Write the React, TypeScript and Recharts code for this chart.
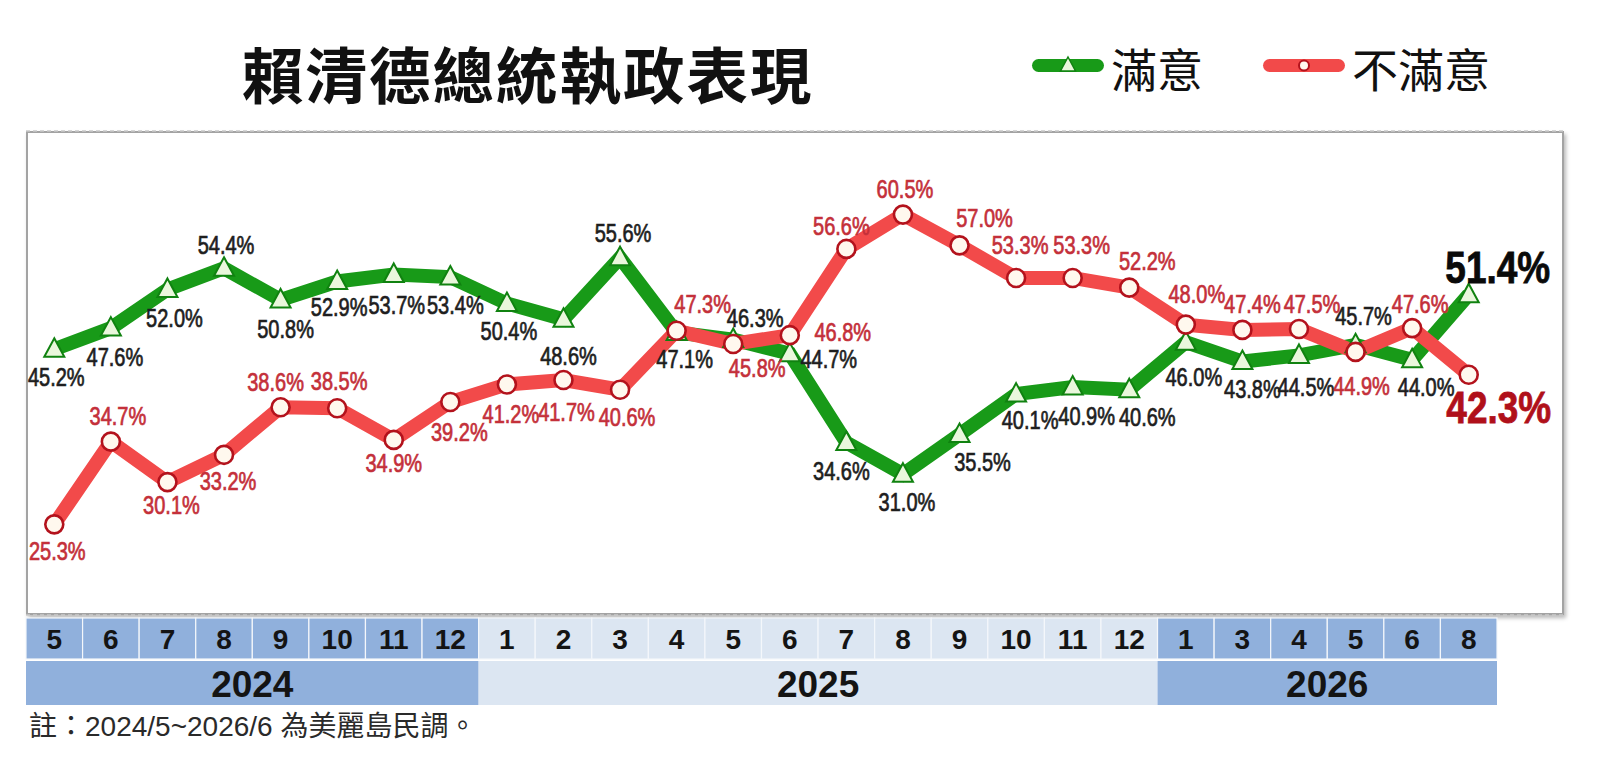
import React from 'react';
import {
  ComposedChart,
  Line,
  XAxis,
  YAxis,
  CartesianGrid,
  LabelList,
  Legend,
} from 'recharts';

// ---------- data ----------
const yearLabels = ['2024', '2025', '2026'];
const monthsByYear = [
  [5, 6, 7, 8, 9, 10, 11, 12],
  [1, 2, 3, 4, 5, 6, 7, 8, 9, 10, 11, 12],
  [1, 3, 4, 5, 6, 8],
];
const satisfied = [
  45.2, 47.6, 52.0, 54.4, 50.8, 52.9, 53.7, 53.4, 50.4, 48.6, 55.6, 47.1, 46.3,
  44.7, 34.6, 31.0, 35.5, 40.1, 40.9, 40.6, 46.0, 43.8, 44.5, 45.7, 44.0, 51.4,
];
const dissatisfied = [
  25.3, 34.7, 30.1, 33.2, 38.6, 38.5, 34.9, 39.2, 41.2, 41.7, 40.6, 47.3, 45.8,
  46.8, 56.6, 60.5, 57.0, 53.3, 53.3, 52.2, 48.0, 47.4, 47.5, 44.9, 47.6, 42.3,
];
const yTicks = [25, 35, 45, 55, 65];
const title = '賴清德總統執政表現';
const seriesNames = ['滿意', '不滿意'];
const footnote = '註：2024/5~2026/6 為美麗島民調。';

// label placement (style config: offset of each label from its point)
const satLabelOffset: [number, number][] = [
  [2, 28], [4, 30], [7, 29], [2, -23], [5, 30], [2, 26], [3, 31], [5, 29],
  [2, 28], [5, 37], [3, -24], [8, 27], [22, -21], [39, 6], [-5, 29], [4, 29],
  [23, 28], [14, 27], [14, 30], [18, 28], [8, 36], [10, 28], [7, 32],
  [8, -28], [14, 28], [29, -27],
];
const disLabelOffset: [number, number][] = [
  [3, 27], [7, -25], [4, 24], [4, 27], [-5, -25], [2, -26], [0, 24], [9, 31],
  [4, 30], [3, 33], [7, 28], [26, -26], [24, 25], [53, -2], [-5, -22],
  [2, -25], [25, -27], [4, -32], [9, -32], [18, -26], [11, -30], [10, -25],
  [13, -24], [6, 35], [8, -23], [30, 33],
];

// ---------- table built from the arrays ----------
const years: string[] = [];
const months: string[] = [];
monthsByYear.forEach((ms, yi) =>
  ms.forEach((m) => {
    years.push(yearLabels[yi]);
    months.push(String(m));
  })
);
const keys = months.map((m, i) => `${years[i]}-${m}`);
const data = keys.map((k, i) => ({
  key: k,
  sat: satisfied[i],
  dis: dissatisfied[i],
}));

// ---------- layout / style ----------
const W = 1600;
const H = 770;
const PLOT_LEFT = 26;
const PLOT_TOP = 131;
const PLOT_RIGHT = 1564;
const PLOT_BOTTOM = 615;
const PAD_RIGHT = 67;
const XAXIS_H = 92;
const N = keys.length;
const BW = (PLOT_RIGHT - PAD_RIGHT - PLOT_LEFT) / N;
const MONTH_TOP = 618;
const MONTH_H = 41;
const YEAR_TOP = 661;
const YEAR_H = 44;

const GREEN = '#189a18';
const GREEN_DARK = '#108210';
const RED = '#f24a4a';
const RED_DARK = '#b3121c';
const DARK_CELL = '#90b0dc';
const LIGHT_CELL = '#dce6f2';
const LABEL_FONT = "'Liberation Sans', Arial, sans-serif";
const CJK_FONT = "'Noto Sans CJK TC', 'Noto Sans CJK SC', sans-serif";

const MonthTick = (props: any) => {
  const { x, payload } = props;
  const i = keys.indexOf(payload.value);
  if (i < 0) return null;
  const yr = years[i];
  const dark = yr !== '2025';
  const left = x - BW / 2;
  const first = i === 0 || years[i - 1] !== yr;
  const count = years.filter((v) => v === yr).length;
  return (
    <g>
      <rect
        x={left}
        y={MONTH_TOP}
        width={BW}
        height={MONTH_H}
        fill={dark ? DARK_CELL : LIGHT_CELL}
        stroke="#f4f7fb"
        strokeWidth={1.2}
      />
      <text
        x={x}
        y={MONTH_TOP + MONTH_H / 2 + 1}
        textAnchor="middle"
        dominantBaseline="central"
        fontFamily="'Liberation Sans', Arial, sans-serif"
        fontWeight="bold"
        fontSize={28}
        fill="#141414"
      >
        {months[i]}
      </text>
      {first && (
        <g>
          <rect
            x={left}
            y={YEAR_TOP}
            width={count * BW}
            height={YEAR_H}
            fill={dark ? DARK_CELL : LIGHT_CELL}
          />
          <text
            x={left + (count * BW) / 2}
            y={YEAR_TOP + YEAR_H / 2 + 1}
            textAnchor="middle"
            dominantBaseline="central"
            fontFamily="'Liberation Sans', Arial, sans-serif"
            fontWeight="bold"
            fontSize={37}
            fill="#141414"
          >
            {yr}
          </text>
        </g>
      )}
    </g>
  );
};

const TriangleDot = (props: any) => {
  const { cx, cy } = props;
  if (cx == null || cy == null) return <g />;
  const d = `M${cx},${cy - 11} L${cx + 10},${cy + 7.5} L${cx - 10},${cy + 7.5} Z`;
  return <path d={d} fill="#eaf7dc" stroke={GREEN_DARK} strokeWidth={2} />;
};

const CircleDot = (props: any) => {
  const { cx, cy } = props;
  if (cx == null || cy == null) return <g />;
  return <circle cx={cx} cy={cy} r={9} fill="#fff8ee" stroke={RED_DARK} strokeWidth={2.6} />;
};

const makeLabel =
  (offsets: [number, number][], color: string, bigColor: string) => (props: any) => {
    const { x, y, value, index } = props;
    if (x == null || y == null) return null;
    const [dx, dy] = offsets[index] || [0, -20];
    const last = index === N - 1;
    return (
      <text
        transform={`translate(${x + dx},${y + dy}) scale(${last ? 0.84 : 0.8},1)`}
        x={0}
        y={0}
        textAnchor="middle"
        dominantBaseline="central"
        fontFamily={LABEL_FONT}
        fontWeight={last ? 'bold' : 'normal'}
        fontSize={last ? 44 : 25}
        fill={last ? bigColor : color}
        stroke={last ? bigColor : color}
        strokeWidth={last ? 0.8 : 0.7}
      >
        {`${Number(value).toFixed(1)}%`}
      </text>
    );
  };

const renderLegend = () => (
  <svg width={500} height={72} style={{ display: 'block' }}>
    <rect x={32} y={29} width={72} height={13} rx={6.5} fill={GREEN} />
    <path d="M68,27 L75.5,41 L60.5,41 Z" fill="#eaf7dc" stroke={GREEN_DARK} strokeWidth={1.5} />
    <text
      x={111}
      y={37}
      dominantBaseline="central"
      fontFamily={CJK_FONT}
      fontSize={46}
      fill="#111"
    >
      {seriesNames[0]}
    </text>
    <rect x={263} y={29} width={82} height={13} rx={6.5} fill={RED} />
    <circle cx={304} cy={35.5} r={5} fill="#fff8ee" stroke={RED_DARK} strokeWidth={2} />
    <text
      x={352}
      y={37}
      dominantBaseline="central"
      fontFamily={CJK_FONT}
      fontSize={46}
      fill="#111"
    >
      {seriesNames[1]}
    </text>
  </svg>
);

export default function App() {
  return (
    <div
      style={{
        position: 'absolute',
        left: 0,
        top: 0,
        width: W,
        height: H,
        background: '#fff',
        overflow: 'hidden',
      }}
    >
      <div
        style={{
          position: 'absolute',
          left: 242,
          top: 42,
          fontFamily: CJK_FONT,
          fontWeight: 'bold',
          fontSize: 61.5,
          letterSpacing: 2,
          lineHeight: 1,
          color: '#111',
          whiteSpace: 'nowrap',
        }}
      >
        {title}
      </div>
      <div
        style={{
          position: 'absolute',
          left: PLOT_LEFT,
          top: PLOT_TOP,
          width: PLOT_RIGHT - PLOT_LEFT,
          height: PLOT_BOTTOM - PLOT_TOP,
          border: '2px solid #a3a3a3',
          boxSizing: 'border-box',
          boxShadow: '2px 3px 4px rgba(0,0,0,0.28)',
          background: '#fff',
        }}
      />
      <div style={{ position: 'absolute', left: 0, top: 0 }}>
        <ComposedChart
          width={W}
          height={H}
          data={data}
          margin={{
            top: PLOT_TOP,
            left: PLOT_LEFT,
            right: W - PLOT_RIGHT,
            bottom: H - PLOT_BOTTOM - XAXIS_H,
          }}
        >
          <CartesianGrid
            vertical={false}
            stroke="#c9c9c9"
            strokeDasharray="4 3"
            strokeWidth={1.5}
          />
          <XAxis
            dataKey="key"
            type="category"
            scale="band"
            interval={0}
            height={XAXIS_H}
            padding={{ left: 0, right: PAD_RIGHT }}
            axisLine={false}
            tickLine={false}
            tick={<MonthTick />}
          />
          <YAxis
            domain={[15, 70]}
            ticks={yTicks}
            width={0}
            tick={false}
            axisLine={false}
            tickLine={false}
            allowDataOverflow
          />
          <Legend
            layout="horizontal"
            verticalAlign="middle"
            align="center"
            content={renderLegend}
            wrapperStyle={{ position: 'absolute', left: 1000, top: 30, width: 500, height: 72 }}
          />
          <Line
            dataKey="sat"
            name={seriesNames[0]}
            stroke={GREEN}
            strokeWidth={14}
            isAnimationActive={false}
            dot={(p: any) => <TriangleDot key={`t-${p.index}`} {...p} />}
            activeDot={false}
          >
            <LabelList dataKey="sat" content={makeLabel(satLabelOffset, '#1e1e1e', '#0a0a0a')} />
          </Line>
          <Line
            dataKey="dis"
            name={seriesNames[1]}
            stroke={RED}
            strokeWidth={14}
            isAnimationActive={false}
            dot={(p: any) => <CircleDot key={`c-${p.index}`} {...p} />}
            activeDot={false}
          >
            <LabelList dataKey="dis" content={makeLabel(disLabelOffset, '#c4303a', '#b0101a')} />
          </Line>
        </ComposedChart>
      </div>
      <div
        style={{
          position: 'absolute',
          left: 29,
          top: 713,
          fontFamily: "'Liberation Sans', " + CJK_FONT,
          fontSize: 28,
          lineHeight: 1,
          color: '#2a2a2a',
          whiteSpace: 'nowrap',
        }}
      >
        {footnote}
      </div>
    </div>
  );
}
